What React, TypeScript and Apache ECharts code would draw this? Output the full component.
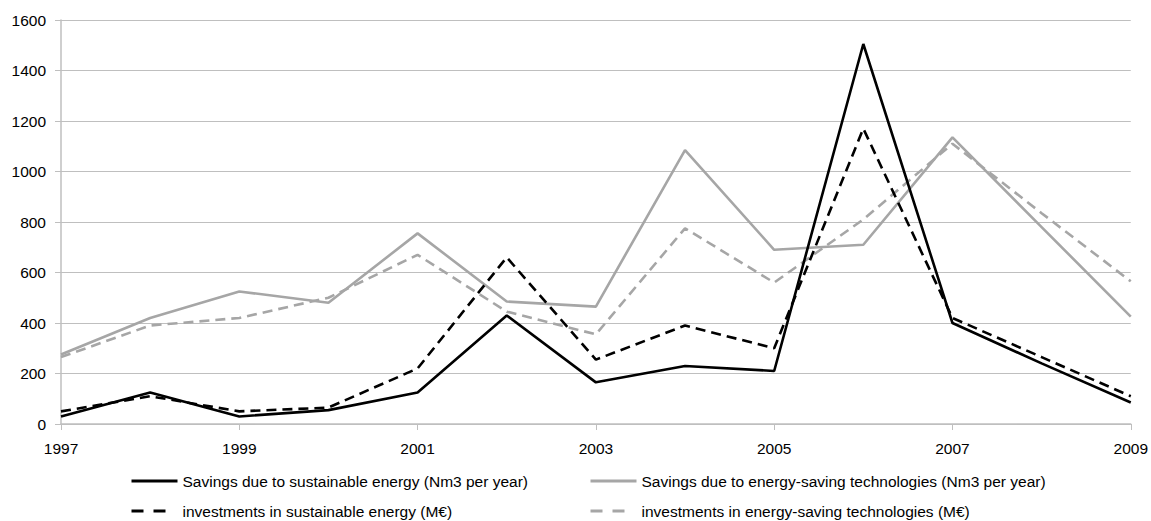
import React, { useEffect, useRef } from "react";
import * as echarts from "echarts";

const years = ["1997","1998","1999","2000","2001","2002","2003","2004","2005","2006","2007","2008","2009"];
const savingsSustainable = [30, 125, 30, 55, 125, 430, 165, 230, 210, 1505, 400, 240, 85];
const savingsTech = [275, 420, 525, 480, 755, 485, 465, 1085, 690, 710, 1135, 780, 425];
const investSustainable = [50, 110, 50, 65, 220, 660, 255, 390, 300, 1170, 420, 265, 110];
const investTech = [265, 390, 420, 500, 670, 445, 355, 775, 560, 810, 1110, 835, 565];
const yTicks = { min: 0, max: 1600, interval: 200 };

const names = [
  "Savings due to sustainable energy (Nm3 per year)",
  "Savings due to energy-saving technologies (Nm3 per year)",
  "investments in sustainable energy (M€)",
  "investments in energy-saving technologies (M€)",
];

const FONT = "'Liberation Sans', Arial, sans-serif";

export default function App() {
  const ref = useRef<HTMLDivElement>(null);
  useEffect(() => {
    const chart = echarts.init(ref.current!, null, { renderer: "svg" });
    const legendBase = (name: string, left: number, top: number, dashed: boolean) => ({
      data: [name],
      left,
      top,
      orient: "horizontal",
      itemWidth: 46,
      itemHeight: 10,
      itemGap: 4,
      itemStyle: { opacity: 0 },
      lineStyle: dashed ? { type: [12, 10, 12, 12], width: 3 } : { width: 3 },
      textStyle: { fontFamily: FONT, fontSize: 15.5, color: "#000", padding: [0, 0, 0, 0] },
      selectedMode: false,
    });
    chart.setOption({
      animation: false,
      grid: { left: 61, right: 18, top: 20, bottom: 97, containLabel: false },
      xAxis: {
        type: "category",
        data: years,
        boundaryGap: false,
        axisLine: { lineStyle: { color: "#bfbfbf", width: 1.5 } },
        axisTick: { interval: 1, length: 6, lineStyle: { color: "#bfbfbf" } },
        axisLabel: { interval: 1, color: "#000", fontFamily: FONT, fontSize: 15.5, margin: 16 },
        splitLine: { show: false },
      },
      yAxis: {
        type: "value",
        min: yTicks.min,
        max: yTicks.max,
        interval: yTicks.interval,
        axisLine: { show: true, lineStyle: { color: "#bfbfbf", width: 1.5 } },
        axisTick: { show: true, length: 6, lineStyle: { color: "#bfbfbf" } },
        axisLabel: {
          color: "#000", fontFamily: FONT, fontSize: 15.5, margin: 15,
          formatter: (v: number) => String(v),
        },
        splitLine: { lineStyle: { color: "#bfbfbf", width: 1.2 } },
      },
      legend: [
        legendBase(names[0], 125, 468, false),
        legendBase(names[1], 584, 468, false),
        legendBase(names[2], 125, 498, true),
        legendBase(names[3], 584, 498, true),
      ],
      series: [
        {
          name: names[0], type: "line", data: savingsSustainable, symbol: "none",
          lineStyle: { color: "#000", width: 2.6 }, itemStyle: { color: "#000" }, z: 4,
        },
        {
          name: names[1], type: "line", data: savingsTech, symbol: "none",
          lineStyle: { color: "#a6a6a6", width: 2.6 }, itemStyle: { color: "#a6a6a6" }, z: 2,
        },
        {
          name: names[2], type: "line", data: investSustainable, symbol: "none",
          lineStyle: { color: "#000", width: 2.6, type: [10, 6] }, itemStyle: { color: "#000" }, z: 3,
        },
        {
          name: names[3], type: "line", data: investTech, symbol: "none",
          lineStyle: { color: "#a6a6a6", width: 2.6, type: [10, 6] }, itemStyle: { color: "#a6a6a6" }, z: 1,
        },
      ],
    });
    return () => chart.dispose();
  }, []);
  return (
    <div
      ref={ref}
      style={{ position: "fixed", left: 0, top: 0, width: 1151, height: 521, background: "#fff" }}
    />
  );
}
